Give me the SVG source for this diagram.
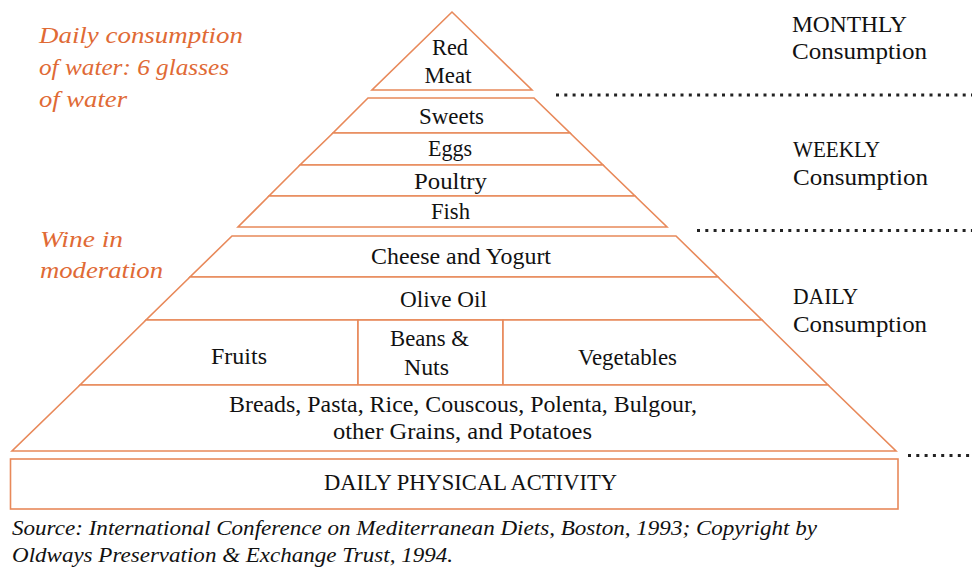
<svg xmlns="http://www.w3.org/2000/svg" width="972" height="568" viewBox="0 0 972 568">
<style>
.band{fill:#ffffff;stroke:#e8895a;stroke-width:1.6;stroke-linejoin:miter}
.lbl{font-family:"Liberation Serif","DejaVu Serif",serif;font-size:23.5px;fill:#111111;text-anchor:middle}
.side{font-family:"Liberation Serif","DejaVu Serif",serif;font-size:24px;fill:#111111}
.note{font-family:"Liberation Serif","DejaVu Serif",serif;font-style:italic;font-size:24px;fill:#e06a35}
.src{font-family:"Liberation Serif","DejaVu Serif",serif;font-style:italic;font-size:21.5px;fill:#111111}
.dots{fill:none;stroke:#222;stroke-width:3;stroke-dasharray:3 5.3}
</style>
<rect width="972" height="568" fill="#ffffff"/>
<g id="dividers">
<line class="dots" x1="556" y1="95" x2="972" y2="95"/>
<line class="dots" x1="697" y1="230.5" x2="972" y2="230.5"/>
<line class="dots" x1="908" y1="455.5" x2="972" y2="455.5"/>
</g>
<g id="red-meat">
<polygon class="band" points="452,12 372,90 532,90"/>
<text class="lbl" x="450" y="55" textLength="36" lengthAdjust="spacingAndGlyphs">Red</text>
<text class="lbl" x="448" y="83" textLength="47" lengthAdjust="spacingAndGlyphs">Meat</text>
</g>
<g id="sweets">
<polygon class="band" points="368,98 534,98 570,133 333,133"/>
<text class="lbl" x="451.5" y="124" textLength="65" lengthAdjust="spacingAndGlyphs">Sweets</text>
</g>
<g id="eggs">
<polygon class="band" points="333,133 570,133 603,165 300,165"/>
<text class="lbl" x="450" y="156" textLength="44" lengthAdjust="spacingAndGlyphs">Eggs</text>
</g>
<g id="poultry">
<polygon class="band" points="300,165 603,165 635,196 269,196"/>
<text class="lbl" x="450.5" y="189" textLength="73" lengthAdjust="spacingAndGlyphs">Poultry</text>
</g>
<g id="fish">
<polygon class="band" points="269,196 635,196 667,227 238,227"/>
<text class="lbl" x="450.5" y="219" textLength="39" lengthAdjust="spacingAndGlyphs">Fish</text>
</g>
<g id="cheese">
<polygon class="band" points="232,236 676,236 718,277 190,277"/>
<text class="lbl" x="461" y="264" textLength="180" lengthAdjust="spacingAndGlyphs">Cheese and Yogurt</text>
</g>
<g id="olive-oil">
<polygon class="band" points="190,277 718,277 762,320 146,320"/>
<text class="lbl" x="443.5" y="307" textLength="87" lengthAdjust="spacingAndGlyphs">Olive Oil</text>
</g>
<g id="fruits">
<polygon class="band" points="146,320 358,320 358,385 80,385"/>
<text class="lbl" x="239" y="364" textLength="56" lengthAdjust="spacingAndGlyphs">Fruits</text>
</g>
<g id="beans-nuts">
<rect class="band" x="358" y="320" width="145" height="65"/>
<text class="lbl" x="429.5" y="346" textLength="79" lengthAdjust="spacingAndGlyphs">Beans &amp;</text>
<text class="lbl" x="426.5" y="375" textLength="45" lengthAdjust="spacingAndGlyphs">Nuts</text>
</g>
<g id="vegetables">
<polygon class="band" points="503,320 762,320 828,385 503,385"/>
<text class="lbl" x="627.5" y="365" textLength="99" lengthAdjust="spacingAndGlyphs">Vegetables</text>
</g>
<g id="grains">
<polygon class="band" points="80,385 828,385 896,451 12,451"/>
<text class="lbl" x="463" y="412" textLength="468" lengthAdjust="spacingAndGlyphs">Breads, Pasta, Rice, Couscous, Polenta, Bulgour,</text>
<text class="lbl" x="462.5" y="439" textLength="259" lengthAdjust="spacingAndGlyphs">other Grains, and Potatoes</text>
</g>
<g id="physical-activity">
<rect class="band" x="10.5" y="459" width="887.5" height="50"/>
<text class="lbl" x="470.5" y="490" textLength="293" lengthAdjust="spacingAndGlyphs">DAILY PHYSICAL ACTIVITY</text>
</g>
<g id="monthly-label">
<text class="side" x="792" y="32" textLength="115" lengthAdjust="spacingAndGlyphs">MONTHLY</text>
<text class="side" x="792" y="59" textLength="135" lengthAdjust="spacingAndGlyphs">Consumption</text>
</g>
<g id="weekly-label">
<text class="side" x="793" y="157" textLength="87" lengthAdjust="spacingAndGlyphs">WEEKLY</text>
<text class="side" x="793" y="185" textLength="135" lengthAdjust="spacingAndGlyphs">Consumption</text>
</g>
<g id="daily-label">
<text class="side" x="793" y="304" textLength="65" lengthAdjust="spacingAndGlyphs">DAILY</text>
<text class="side" x="793" y="332" textLength="134" lengthAdjust="spacingAndGlyphs">Consumption</text>
</g>
<g id="water-note">
<text class="note" x="39" y="43" textLength="204" lengthAdjust="spacingAndGlyphs">Daily consumption</text>
<text class="note" x="39" y="75" textLength="190" lengthAdjust="spacingAndGlyphs">of water: 6 glasses</text>
<text class="note" x="39" y="107" textLength="88" lengthAdjust="spacingAndGlyphs">of water</text>
</g>
<g id="wine-note">
<text class="note" x="40" y="247" textLength="83" lengthAdjust="spacingAndGlyphs">Wine in</text>
<text class="note" x="40" y="278" textLength="123" lengthAdjust="spacingAndGlyphs">moderation</text>
</g>
<g id="source">
<text class="src" x="12" y="535" textLength="805" lengthAdjust="spacingAndGlyphs">Source: International Conference on Mediterranean Diets, Boston, 1993; Copyright by</text>
<text class="src" x="12" y="562" textLength="441" lengthAdjust="spacingAndGlyphs">Oldways Preservation &amp; Exchange Trust, 1994.</text>
</g>
</svg>
